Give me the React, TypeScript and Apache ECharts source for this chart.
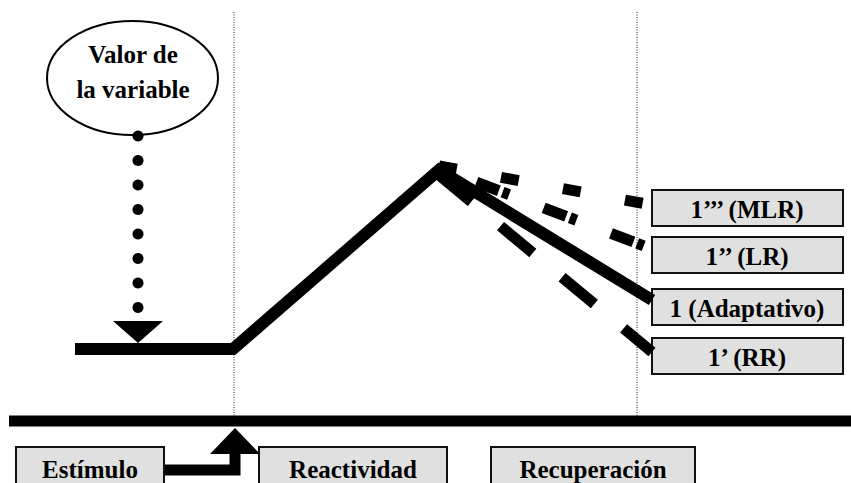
import React, { useEffect, useRef } from "react";
import * as echarts from "echarts";

const W = 851;
const H = 483;

// Diagram data (x = time along the trial, y = value of the variable, screen-like units)
const adaptiveX = [75, 233, 439, 652];
const adaptiveY = [349, 349, 170, 300];
const mlrX = [439, 652];
const mlrY = [166, 205];
const lrX = [439, 652];
const lrY = [168, 249];
const rrX = [439, 652];
const rrY = [175, 352];
const phaseBoundaryX = [234, 637];
const timeAxisX = [9, 851];
const timeAxisLevel = 421;
const markerDotsY = [136, 160.5, 185, 209.5, 234, 258.5, 283, 307.5];
const markerX = 138;
const markerTipY = 332;
const stimulusArrowX = [165, 235, 235];
const stimulusArrowY = [470, 470, 452];
const stimulusTipY = 441;

const outcomeLabels = ["1’’’ (MLR)", "1’’ (LR)", "1 (Adaptativo)", "1’ (RR)"];
const phaseLabels = ["Estímulo", "Reactividad", "Recuperación"];
const bubbleLines = ["Valor de", "la variable"];

const zip = (xs: number[], ys: number[]) => xs.map((x, i) => [x, ys[i]]);

export default function App() {
  const ref = useRef<HTMLDivElement>(null);
  useEffect(() => {
    document.body.style.margin = "0";
    const chart = echarts.init(ref.current!, undefined, { renderer: "svg" });
    const font = "'Liberation Serif', 'Times New Roman', serif";
    const boxStyle = { fill: "#e0e0e0", stroke: "#111", lineWidth: 2 };
    const textStyle = (size: number) => ({
      fill: "#000",
      font: `bold ${size}px ${font}`,
      textAlign: "center",
      textVerticalAlign: "middle",
    });

    const rightTops = [190, 237, 289, 338];
    const bottomBoxes = [
      [16, 148],
      [259, 188],
      [491, 204],
    ];

    const graphics: any[] = [
      {
        type: "ellipse",
        z: 0,
        shape: { cx: 132.5, cy: 78, rx: 85.5, ry: 57 },
        style: { fill: "#fff", stroke: "#000", lineWidth: 2 },
      },
      ...bubbleLines.map((t, i) => ({
        type: "text",
        z: 1,
        x: 133,
        y: 54 + i * 35,
        style: { text: t, ...textStyle(25) },
      })),
      ...outcomeLabels.map((t, i) => ({
        type: "group",
        z: 5,
        children: [
          {
            type: "rect",
            shape: { x: 652, y: rightTops[i], width: 191, height: 36 },
            style: boxStyle,
          },
          {
            type: "text",
            x: 747,
            y: rightTops[i] + 19,
            style: { text: t, ...textStyle(25) },
          },
        ],
      })),
      ...phaseLabels.map((t, i) => ({
        type: "group",
        z: 5,
        children: [
          {
            type: "rect",
            shape: { x: bottomBoxes[i][0], y: 447, width: bottomBoxes[i][1], height: 50 },
            style: boxStyle,
          },
          {
            type: "text",
            x: bottomBoxes[i][0] + bottomBoxes[i][1] / 2,
            y: 469,
            style: { text: t, ...textStyle(25) },
          },
        ],
      })),
    ];

    const solid = (data: number[][], width: number, extra: any = {}) => ({
      type: "line",
      data,
      symbol: "none",
      silent: true,
      lineStyle: { color: "#000", width, cap: "butt", join: "miter", opacity: 1, ...extra },
      z: 3,
    });
    const marks = (symbol: string, size: any, data: number[][], rotate = 0) => ({
      type: "scatter",
      silent: true,
      z: 4,
      symbol,
      symbolSize: size,
      symbolRotate: rotate,
      itemStyle: { color: "#000", opacity: 1 },
      data,
    });

    chart.setOption({
      animation: false,
      grid: { left: 0, right: 0, top: 0, bottom: 0 },
      xAxis: { type: "value", min: 0, max: W, show: false },
      yAxis: { type: "value", min: 0, max: H, inverse: true, show: false },
      graphic: graphics,
      series: [
        ...phaseBoundaryX.map((x) =>
          solid([[x, 12], [x, 416]], 1, { type: [1, 1.5], color: "#222" })
        ),
        solid(zip(timeAxisX, [timeAxisLevel, timeAxisLevel]), 11),
        solid(zip(adaptiveX, adaptiveY), 12),
        solid(zip(mlrX, mlrY), 11, { type: [18, 45] }),
        solid(zip(lrX, lrY), 11, { type: [24, 4, 7, 37], dashOffset: 32 }),
        solid(zip(rrX, rrY), 11, { type: [42, 38] }),
        solid(zip(stimulusArrowX, stimulusArrowY), 11),
        marks("circle", 11, markerDotsY.map((y) => [markerX, y])),
        marks("triangle", [50, 22], [[markerX, markerTipY]], 180),
        marks("triangle", [50, 26], [[stimulusArrowX[1], stimulusTipY]]),
      ],
    });
    return () => chart.dispose();
  }, []);
  return <div ref={ref} style={{ width: W, height: H }} />;
}
